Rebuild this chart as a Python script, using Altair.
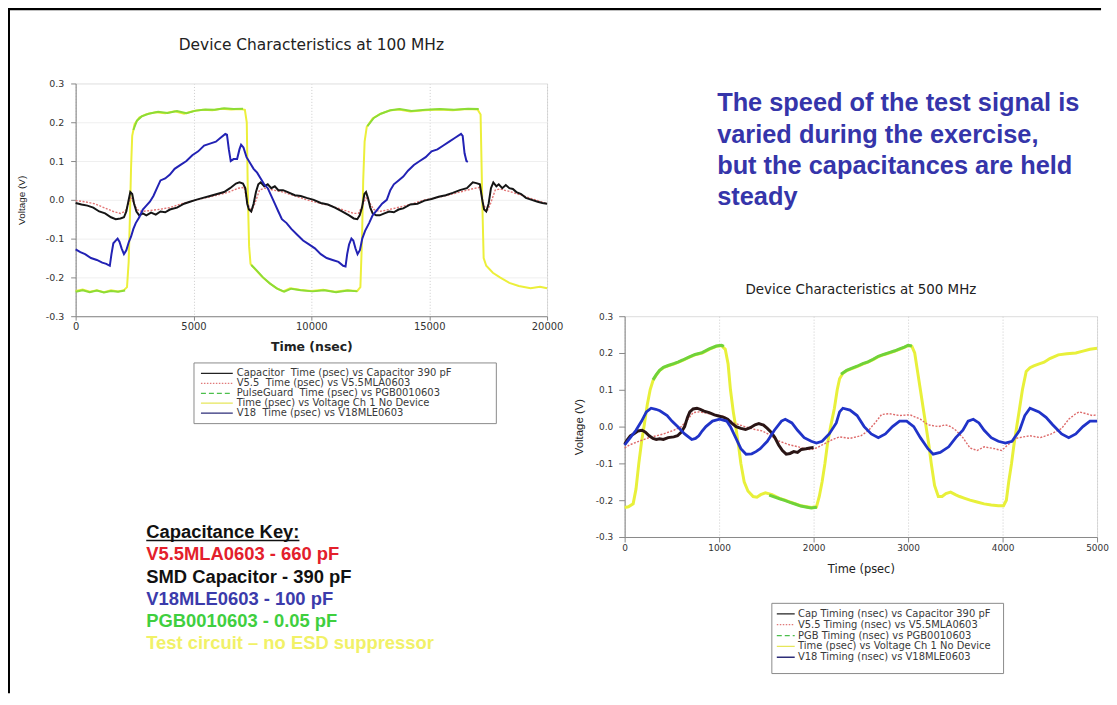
import altair as alt
import pandas as pd

# ---------------- 100 MHz chart data (x in "nsec" as labelled) ----------------
C1_NODEV = [(0,-0.235),(300,-0.231),(600,-0.237),(900,-0.233),(1200,-0.238),(1500,-0.233),(1800,-0.236),
            (2050,-0.233),(2180,-0.225),(2250,-0.16),(2300,-0.05),(2350,0.08),(2400,0.165),(2500,0.195),
            (2700,0.212),(3000,0.221),(3400,0.226),(3800,0.223),(4200,0.228),(4600,0.222),(5000,0.229),
            (5400,0.232),(5800,0.231),(6200,0.235),(6600,0.233),(7000,0.234),(7180,0.232),(7260,0.2),
            (7310,0.0),(7360,-0.12),(7420,-0.165),(7600,-0.178),(7900,-0.198),(8200,-0.214),(8500,-0.227),
            (8800,-0.236),(9100,-0.228),(9500,-0.232),(10000,-0.235),(10500,-0.232),(11000,-0.237),
            (11500,-0.233),(11950,-0.235),(12080,-0.225),(12150,-0.1),(12200,0.05),(12260,0.15),
            (12350,0.188),(12600,0.21),(12900,0.221),(13300,0.23),(13700,0.233),(14200,0.228),(14800,0.231),
            (15400,0.233),(16000,0.231),(16600,0.234),(17050,0.233),(17180,0.22),(17250,0.0),(17310,-0.15),
            (17420,-0.17),(17700,-0.188),(18000,-0.2),(18400,-0.214),(18800,-0.222),(19300,-0.228),
            (19700,-0.224),(20000,-0.228)]
C1_PGB = [
    [(0,-0.237),(300,-0.233),(600,-0.238),(900,-0.234),(1200,-0.239),(1500,-0.235),(1800,-0.237),(2100,-0.234)],
    [(2450,0.18),(2600,0.204),(2800,0.215),(3100,0.222),(3500,0.227),(3900,0.224),(4300,0.229),(4700,0.223),
     (5100,0.23),(5500,0.233),(5900,0.232),(6300,0.236),(6700,0.234),(7100,0.235)],
    [(7450,-0.168),(7650,-0.18),(7950,-0.2),(8250,-0.216),(8550,-0.229),(8850,-0.237),(9150,-0.229),
     (9550,-0.233),(10050,-0.236),(10550,-0.233),(11050,-0.238),(11550,-0.234),(11950,-0.236)],
    [(12380,0.19),(12650,0.211),(12950,0.222),(13350,0.231),(13750,0.234),(14250,0.229),(14850,0.232),
     (15450,0.234),(16050,0.232),(16650,0.235),(17100,0.234)],
]
C1_CAP = [(0,-0.008),(250,-0.012),(500,-0.015),(750,-0.02),(1000,-0.03),(1250,-0.035),(1500,-0.045),
          (1700,-0.05),(1900,-0.048),(2050,-0.045),(2150,-0.03),(2250,0.0),(2320,0.02),(2400,0.015),
          (2480,-0.01),(2580,-0.03),(2700,-0.04),(2850,-0.035),(3000,-0.04),(3200,-0.033),(3400,-0.038),
          (3600,-0.03),(3800,-0.032),(4000,-0.025),(4300,-0.02),(4600,-0.01),(4850,-0.005),(5100,0.0),
          (5400,0.005),(5700,0.01),(6000,0.015),(6300,0.02),(6550,0.03),(6800,0.042),(6950,0.045),
          (7100,0.042),(7200,0.03),(7280,-0.01),(7350,-0.025),(7450,-0.03),(7550,-0.01),(7650,0.02),
          (7750,0.04),(7850,0.045),(8000,0.035),(8150,0.04),(8300,0.03),(8450,0.035),(8600,0.025),
          (8800,0.025),(9000,0.02),(9300,0.012),(9550,0.01),(9800,0.005),(10100,0.0),(10400,-0.008),
          (10700,-0.012),(11000,-0.02),(11300,-0.03),(11600,-0.04),(11800,-0.048),(11950,-0.05),
          (12050,-0.04),(12150,-0.02),(12250,0.015),(12320,0.02),(12400,0.005),(12500,-0.02),
          (12600,-0.035),(12750,-0.04),(12900,-0.04),(13100,-0.035),(13300,-0.03),(13500,-0.032),
          (13700,-0.025),(13900,-0.022),(14200,-0.012),(14500,-0.01),(14800,-0.002),(15100,0.002),
          (15400,0.008),(15700,0.012),(16000,0.018),(16300,0.025),(16600,0.03),(16850,0.045),
          (17000,0.043),(17150,0.04),(17250,0.0),(17330,-0.025),(17420,-0.03),(17520,-0.01),
          (17620,0.03),(17720,0.045),(17850,0.035),(17950,0.04),(18100,0.03),(18250,0.038),
          (18400,0.03),(18550,0.028),(18700,0.02),(18900,0.015),(19100,0.005),(19350,0.0),
          (19600,-0.005),(19800,-0.008),(20000,-0.01)]
C1_V55 = [(0,-0.002),(400,-0.005),(800,-0.01),(1200,-0.02),(1600,-0.03),(1900,-0.035),(2100,-0.03),
          (2250,-0.01),(2330,0.005),(2450,-0.005),(2600,-0.025),(2800,-0.03),(3100,-0.028),(3500,-0.025),
          (4000,-0.02),(4500,-0.01),(5000,-0.002),(5500,0.005),(6000,0.012),(6500,0.02),(6900,0.03),
          (7150,0.032),(7300,-0.01),(7450,-0.03),(7600,-0.01),(7800,0.025),(8000,0.03),(8400,0.025),
          (8800,0.02),(9300,0.01),(9800,0.0),(10300,-0.008),(10800,-0.015),(11300,-0.025),(11800,-0.035),
          (12000,-0.035),(12200,-0.01),(12320,0.005),(12450,-0.005),(12650,-0.025),(12900,-0.03),
          (13300,-0.025),(13800,-0.018),(14300,-0.01),(14800,0.0),(15300,0.005),(15800,0.012),
          (16300,0.02),(16800,0.028),(17150,0.032),(17300,-0.01),(17450,-0.03),(17600,-0.01),
          (17800,0.025),(18000,0.028),(18500,0.02),(19000,0.01),(19500,0.0),(20000,-0.01)]
C1_V18 = [(0,-0.128),(200,-0.135),(400,-0.14),(650,-0.15),(900,-0.155),(1130,-0.162),(1300,-0.165),
          (1450,-0.17),(1520,-0.14),(1600,-0.112),(1700,-0.105),(1780,-0.1),(1860,-0.108),(1950,-0.125),
          (2050,-0.14),(2150,-0.13),(2250,-0.11),(2350,-0.095),(2450,-0.075),(2550,-0.06),(2700,-0.045),
          (2850,-0.025),(3000,-0.015),(3150,-0.005),(3300,0.01),(3450,0.03),(3600,0.05),(3800,0.055),
          (4000,0.065),(4200,0.08),(4450,0.09),(4700,0.1),(4950,0.115),(5200,0.125),(5450,0.14),
          (5700,0.145),(5950,0.15),(6150,0.16),(6350,0.17),(6420,0.168),(6500,0.13),(6580,0.1),
          (6700,0.105),(6850,0.105),(6950,0.13),(7020,0.142),(7120,0.135),(7250,0.11),(7400,0.095),
          (7550,0.08),(7700,0.07),(7850,0.055),(8000,0.04),(8150,0.03),(8300,0.01),(8450,-0.01),
          (8600,-0.03),(8750,-0.05),(8950,-0.06),(9150,-0.075),(9400,-0.09),(9650,-0.105),(9900,-0.115),
          (10150,-0.125),(10400,-0.14),(10650,-0.15),(10900,-0.155),(11150,-0.16),(11350,-0.17),
          (11450,-0.172),(11520,-0.14),(11600,-0.115),(11700,-0.1),(11780,-0.105),(11870,-0.125),
          (11960,-0.14),(12060,-0.13),(12160,-0.1),(12280,-0.08),(12450,-0.06),(12600,-0.04),
          (12800,-0.025),(13000,-0.01),(13200,0.0),(13350,0.025),(13500,0.04),(13700,0.05),(13900,0.06),
          (14100,0.075),(14350,0.09),(14600,0.1),(14850,0.11),(15100,0.125),(15350,0.13),(15600,0.14),
          (15850,0.15),(16100,0.16),(16350,0.17),(16420,0.165),(16500,0.12),(16580,0.1),(16640,0.098)]

# ---------------- 500 MHz chart data (x in psec) ----------------
C2_NODEV = [(0,-0.22),(40,-0.218),(90,-0.21),(120,-0.17),(150,-0.1),(180,-0.04),(205,0.0),(240,0.06),
            (270,0.1),(300,0.125),(335,0.14),(370,0.152),(410,0.16),(460,0.165),(520,0.17),(570,0.175),
            (615,0.18),(680,0.188),(745,0.195),(820,0.2),(895,0.21),(970,0.218),(1025,0.22),(1065,0.21),
            (1095,0.17),(1120,0.1),(1150,0.04),(1175,0.0),(1205,-0.05),(1230,-0.1),(1265,-0.15),
            (1305,-0.175),(1360,-0.19),(1400,-0.192),(1440,-0.185),(1490,-0.18),(1560,-0.185),
            (1640,-0.195),(1700,-0.2),(1750,-0.205),(1810,-0.21),(1865,-0.215),(1930,-0.218),(1975,-0.22),
            (2030,-0.218),(2060,-0.19),(2090,-0.15),(2120,-0.1),(2145,-0.05),(2180,0.0),(2220,0.05),
            (2250,0.1),(2275,0.13),(2310,0.145),(2350,0.152),(2400,0.157),(2460,0.163),(2520,0.17),
            (2575,0.175),(2630,0.182),(2685,0.19),(2740,0.195),(2800,0.2),(2860,0.205),(2910,0.21),
            (2960,0.215),(3000,0.22),(3040,0.218),(3070,0.2),(3100,0.15),(3130,0.1),(3160,0.05),
            (3190,0.0),(3220,-0.05),(3245,-0.1),(3280,-0.16),(3320,-0.19),(3360,-0.19),(3400,-0.182),
            (3450,-0.178),(3500,-0.185),(3545,-0.19),(3600,-0.195),(3655,-0.2),(3730,-0.205),
            (3805,-0.21),(3880,-0.213),(3955,-0.215),(4010,-0.215),(4040,-0.2),(4065,-0.15),(4095,-0.1),
            (4120,-0.05),(4150,0.0),(4180,0.05),(4210,0.1),(4250,0.15),(4290,0.16),(4330,0.165),
            (4380,0.17),(4440,0.175),(4500,0.185),(4590,0.195),(4680,0.198),(4775,0.2),(4850,0.205),
            (4925,0.21),(5000,0.213)]
C2_PGB = [
    [(300,0.127),(335,0.141),(370,0.153),(410,0.161),(460,0.166),(520,0.171),(570,0.176),(615,0.181),
     (680,0.189),(745,0.196),(820,0.201),(895,0.211),(970,0.219),(1025,0.221),(1050,0.218)],
    [(1530,-0.186),(1640,-0.196),(1700,-0.201),(1750,-0.206),(1810,-0.211),(1865,-0.216),(1930,-0.219),
     (1975,-0.221),(2035,-0.219)],
    [(2290,0.142),(2350,0.153),(2400,0.158),(2460,0.164),(2520,0.171),(2575,0.176),(2630,0.183),
     (2685,0.191),(2740,0.196),(2800,0.201),(2860,0.206),(2910,0.211),(2960,0.216),(3000,0.221),(3040,0.219)],
]
C2_CAP = [(0,-0.048),(30,-0.035),(60,-0.025),(95,-0.02),(140,-0.012),(185,-0.01),(220,-0.015),(260,-0.025),
          (300,-0.032),(335,-0.035),(370,-0.033),(410,-0.035),(460,-0.03),(520,-0.028),(560,-0.025),
          (600,-0.015),(635,0.0),(665,0.025),(690,0.04),(725,0.048),(765,0.05),(800,0.047),(840,0.042),
          (895,0.038),(950,0.032),(1005,0.028),(1050,0.025),(1090,0.02),(1130,0.01),(1180,0.0),
          (1230,-0.005),(1280,-0.008),(1330,-0.003),(1380,0.005),(1420,0.008),(1470,0.004),(1510,-0.005),
          (1550,-0.015),(1590,-0.03),(1630,-0.05),(1670,-0.065),(1710,-0.075),(1750,-0.073),
          (1790,-0.068),(1830,-0.07),(1870,-0.062),(1920,-0.06),(1960,-0.058),(2000,-0.057)]
C2_V55 = [(0,-0.058),(50,-0.05),(150,-0.04),(260,-0.03),(410,-0.02),(520,-0.01),(600,0.0),(670,0.02),
          (725,0.038),(790,0.04),(895,0.035),(1045,0.028),(1155,0.01),(1270,0.0),(1380,-0.008),
          (1460,-0.012),(1530,-0.022),(1640,-0.04),(1750,-0.05),(1840,-0.055),(1900,-0.06),(1975,-0.063),
          (2040,-0.057),(2090,-0.05),(2200,-0.035),(2275,-0.028),(2385,-0.032),(2500,-0.025),
          (2575,-0.012),(2650,0.01),(2720,0.033),(2800,0.035),(2910,0.03),(3020,0.032),(3130,0.02),
          (3210,0.005),(3320,0.0),(3395,0.005),(3450,0.0),(3505,-0.01),(3580,-0.03),(3655,-0.058),
          (3730,-0.065),(3805,-0.055),(3915,-0.06),(3990,-0.065),(4045,-0.052),(4140,-0.032),
          (4220,-0.028),(4290,-0.025),(4400,-0.03),(4515,-0.02),(4625,-0.005),(4700,0.02),(4775,0.035),
          (4810,0.04),(4885,0.035),(4950,0.03),(5000,0.032)]
C2_V18 = [(0,-0.05),(60,-0.03),(120,-0.01),(180,0.015),(230,0.04),(280,0.05),(330,0.047),(373,0.043),
          (450,0.03),(500,0.015),(560,0.0),(635,-0.02),(710,-0.035),(750,-0.032),(785,-0.025),(820,-0.012),
          (860,0.0),(930,0.015),(1005,0.02),(1080,0.015),(1120,0.0),(1175,-0.03),(1230,-0.06),
          (1285,-0.075),(1345,-0.074),(1390,-0.068),(1435,-0.06),(1510,-0.04),(1585,-0.01),(1660,0.015),
          (1700,0.02),(1770,0.01),(1830,-0.01),(1900,-0.03),(1975,-0.04),(2030,-0.045),(2090,-0.04),
          (2165,-0.02),(2240,0.01),(2275,0.04),(2310,0.05),(2385,0.045),(2460,0.03),(2535,0.0),
          (2610,-0.02),(2685,-0.03),(2760,-0.02),(2835,0.0),(2910,0.015),(2985,0.015),(3060,0.0),
          (3130,-0.03),(3210,-0.06),(3265,-0.075),(3340,-0.07),(3430,-0.055),(3505,-0.03),(3580,-0.01),
          (3635,0.015),(3690,0.02),(3750,0.01),(3805,-0.01),(3880,-0.03),(3955,-0.04),(4030,-0.045),
          (4100,-0.04),(4180,-0.01),(4235,0.03),(4290,0.05),(4385,0.04),(4460,0.025),(4530,0.005),
          (4625,-0.02),(4700,-0.03),(4775,-0.02),(4850,0.0),(4925,0.015),(5000,0.015)]

# ---------------- texts ----------------
TITLE1 = "Device Characteristics at 100 MHz"
TITLE2 = "Device Characteristics at 500 MHz"
X1_TICKS = [0, 5000, 10000, 15000, 20000]
X2_TICKS = [0, 1000, 2000, 3000, 4000, 5000]
Y_TICKS = [-0.3, -0.2, -0.1, 0.0, 0.1, 0.2, 0.3]
LEG1 = ["Capacitor\u00a0 Time (psec) vs Capacitor 390 pF", "V5.5\u00a0 Time (psec) vs V5.5MLA0603",
        "PulseGuard\u00a0 Time (psec) vs PGB0010603", "Time (psec) vs Voltage Ch 1 No Device",
        "V18\u00a0 Time (psec) vs V18MLE0603"]
LEG2 = ["Cap Timing (nsec) vs Capacitor 390 pF", "V5.5 Timing (nsec) vs V5.5MLA0603",
        "PGB Timing (nsec) vs PGB0010603", "Time (psec) vs Voltage Ch 1 No Device",
        "V18 Timing (nsec) vs V18MLE0603"]
KEY_LINES = ["Capacitance Key:", "V5.5MLA0603 - 660 pF", "SMD Capacitor - 390 pF", "V18MLE0603 - 100 pF",
             "PGB0010603 - 0.05 pF", "Test circuit \u2013 no ESD suppressor"]
BLUE_LINES = ["The speed of the test signal is", "varied during the exercise,",
              "but the capacitances are held", "steady"]

# ---------------- styles ----------------
KEY_COLORS = ["#111111", "#e3202b", "#111111", "#3b3bab", "#3fcf3f", "#f1f167"]
LEG_COLORS = ["#222222", "#e07a7a", "#4cbf4c", "#e6e65a", "#2d2d78"]
LEG_DASHES = [[1, 0], [1.5, 1.5], [5, 3], [1, 0], [1, 0]]
FONT = "DejaVu Sans"
ARIAL = "Liberation Sans"
ONE = pd.DataFrame({"k": [0]})


def pairs_df(pairs):
    return pd.DataFrame(pairs, columns=["t", "v"])


def segs_df(segs):
    return pd.DataFrame([(t, v, i) for i, s in enumerate(segs) for t, v in s], columns=["t", "v", "seg"])


ylab = "(datum.value < 0 ? '-' : '') + format(abs(datum.value), '.1f')"

X1 = alt.X("t:Q", scale=alt.Scale(domain=[0, 20000], nice=False, zero=False),
           axis=alt.Axis(values=X1_TICKS, format="d", title="Time (nsec)", titleFont=FONT, titleFontSize=12.5,
                         titleFontWeight="bold", titleColor="#222", titleX=237, titleY=30, titleBaseline="middle",
                         labelFont=FONT, labelFontSize=10, labelColor="#333", labelFlush=False, labelPadding=1,
                         tickSize=4, tickColor="#888", domainColor="#888", grid=True, gridColor="#cccccc",
                         gridDash=[1, 2], labelOverlap=False))
Y1 = alt.Y("v:Q", scale=alt.Scale(domain=[-0.3, 0.3], nice=False, zero=False),
           axis=alt.Axis(values=Y_TICKS, labelExpr=ylab, title="Voltage (V)", titleFont=ARIAL, titleFontSize=10,
                         titleFontWeight="normal", titleColor="#222", titleX=-54, titleY=117, titleAngle=270,
                         titleBaseline="middle", titleAlign="center", labelFont=FONT, labelFontSize=9.5,
                         labelColor="#333", labelPadding=7, tickSize=5, tickColor="#888", domainColor="#888",
                         grid=True, gridColor="#efefef", labelFlush=False))
X2 = alt.X("t:Q", scale=alt.Scale(domain=[0, 5000], nice=False, zero=False),
           axis=alt.Axis(values=X2_TICKS, format="d", title="Time (psec)", titleFont=FONT, titleFontSize=11.5,
                         titleFontWeight="normal", titleColor="#222", titleX=237.5, titleY=33,
                         titleBaseline="middle", labelFont=FONT, labelFontSize=9, labelColor="#333",
                         labelFlush=False, labelPadding=2, tickSize=5, tickColor="#888", domainColor="#888",
                         grid=True, gridColor="#cccccc", gridDash=[1, 2], labelOverlap=False))
Y2 = alt.Y("v:Q", scale=alt.Scale(domain=[-0.3, 0.3], nice=False, zero=False),
           axis=alt.Axis(values=Y_TICKS, labelExpr=ylab, title="Voltage (V)", titleFont=ARIAL, titleFontSize=11.5,
                         titleFontWeight="normal", titleColor="#222", titleX=-45, titleY=111, titleAngle=270,
                         titleBaseline="middle", titleAlign="center", labelFont=FONT, labelFontSize=9,
                         labelColor="#333", labelPadding=6, tickSize=6, tickColor="#888", domainColor="#888",
                         grid=False, labelFlush=False))


def line(pairs, X, Y, color, width, dash=None):
    kw = dict(color=color, strokeWidth=width)
    if dash:
        kw["strokeDash"] = dash
    return alt.Chart(pairs_df(pairs)).mark_line(**kw).encode(x=X, y=Y)


def seg_line(segs, X, Y, color, width):
    return alt.Chart(segs_df(segs)).mark_line(color=color, strokeWidth=width).encode(
        x=X, y=Y, detail="seg:N")


def title_mark(text, x, y, size):
    return alt.Chart(ONE).mark_text(align="center", baseline="middle", font=FONT, fontSize=size,
                                    color="#222").encode(x=alt.value(x), y=alt.value(y), text=alt.value(text))


def legend(labels, box, row0, step, sx0, sx1, tx, size):
    df = pd.DataFrame({"label": labels, "row": list(range(len(labels)))})
    base = alt.Chart(df).transform_calculate(ly=f"{row0} + {step} * datum.row")
    frame = alt.Chart(ONE).mark_rect(fill="white", stroke="#8a8a8a", strokeWidth=1).encode(
        x=alt.value(box[0]), x2=alt.value(box[1]), y=alt.value(box[2]), y2=alt.value(box[3]))
    sym = base.mark_rule(strokeWidth=1.3).encode(
        x=alt.value(sx0), x2=alt.value(sx1),
        y=alt.Y("ly:Q", scale=None, axis=None),
        color=alt.Color("label:N", scale=alt.Scale(domain=labels, range=LEG_COLORS), legend=None),
        strokeDash=alt.StrokeDash("label:N", scale=alt.Scale(domain=labels, range=LEG_DASHES), legend=None))
    txt = base.mark_text(align="left", baseline="middle", font=FONT, fontSize=size, color="#3a3a3a").encode(
        x=alt.value(tx), y=alt.Y("ly:Q", scale=None, axis=None), text="label:N")
    return [frame, sym, txt]


# ---------------- left panel: 100 MHz chart + legend + capacitance key + slide frame ----------------
frame_left = alt.Chart(ONE).mark_rect(color="black").encode(
    x=alt.value(-68.5), x2=alt.value(-66), y=alt.value(-76), y2=alt.value(613))
frame_top = alt.Chart(ONE).mark_rect(color="black").encode(
    x=alt.value(-68.5), x2=alt.value(1031), y=alt.value(-76), y2=alt.value(-73.5))

key_df = pd.DataFrame({"line": KEY_LINES, "row": list(range(len(KEY_LINES)))})
key_txt = alt.Chart(key_df).transform_calculate(ly="457 + 22.4 * datum.row").mark_text(
    align="left", baseline="alphabetic", font=ARIAL, fontSize=18.5, fontWeight="bold").encode(
    x=alt.value(71), y=alt.Y("ly:Q", scale=None, axis=None), text="line:N",
    color=alt.Color("line:N", scale=alt.Scale(domain=KEY_LINES, range=KEY_COLORS), legend=None))
key_ul = alt.Chart(ONE).mark_rule(color="#111", strokeWidth=1.5).encode(
    x=alt.value(71), x2=alt.value(225), y=alt.value(459.5))

left_layers = [
    line(C1_NODEV, X1, Y1, "#ecef3a", 2),
    seg_line(C1_PGB, X1, Y1, "#8ddc36", 2),
    line(C1_V55, X1, Y1, "#e27575", 1.4, [2, 1.5]),
    line(C1_CAP, X1, Y1, "#151515", 2),
    line(C1_V18, X1, Y1, "#2222b4", 2),
] + legend(LEG1, (119, 423, 281, 342), 291.5, 10, 126, 158, 162, 10) + [
    key_txt, key_ul, frame_left, frame_top, title_mark(TITLE1, 237, -39, 15.5)]

left = alt.layer(*left_layers).resolve_scale(color="independent", strokeDash="independent").properties(
    width=474, height=234)

# ---------------- right column: statement text + 500 MHz chart ----------------
statement = alt.Chart(ONE).mark_text(
    align="left", baseline="alphabetic", font=ARIAL, fontSize=25.5, fontWeight="bold",
    color="#3535aa", lineHeight=31.4).encode(
    x=alt.value(93), y=alt.value(28), text=alt.value(BLUE_LINES)).properties(
    width=475, height=234, view=alt.ViewBackground(stroke="transparent"))

right_layers = [
    line(C2_NODEV, X2, Y2, "#e8f03a", 3),
    seg_line(C2_PGB, X2, Y2, "#6fd23a", 3),
    line(C2_V55, X2, Y2, "#dd6a6a", 1.4, [2, 1.5]),
    line(C2_CAP, X2, Y2, "#2a1515", 3),
    line(C2_V18, X2, Y2, "#2033c8", 2.8),
] + legend(LEG2, (148, 381, 288.7, 359.3), 299.3, 10.9, 153, 171, 174.3, 10) + [
    title_mark(TITLE2, 237.5, -26.7, 13.5)]

chart2 = alt.layer(*right_layers).resolve_scale(color="independent", strokeDash="independent").properties(
    width=475, height=222)

right = alt.vconcat(statement, chart2, spacing=0, bounds="flush")

chart = alt.hconcat(left, right, spacing=78, bounds="flush").resolve_scale(
    color="independent", strokeDash="independent").properties(
    padding={"left": -1, "top": -3, "right": 0, "bottom": 0}).configure_view(
    stroke="#8f8f8f", strokeWidth=1).configure(background="white")

chart.save("out.html", embed_options={"renderer": "svg", "actions": False})
